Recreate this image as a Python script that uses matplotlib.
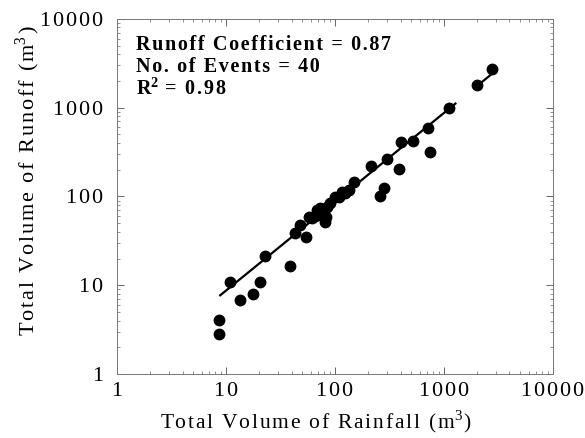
import numpy as np
import matplotlib
matplotlib.use("Agg")
import matplotlib.pyplot as plt
from matplotlib.ticker import FixedLocator, FixedFormatter, LogLocator, NullFormatter

plt.rcParams["font.family"] = ["Liberation Serif", "DejaVu Serif"]
plt.rcParams["mathtext.fontset"] = "custom"
plt.rcParams["mathtext.rm"] = "Liberation Serif"
plt.rcParams["mathtext.bf"] = "Liberation Serif:bold"

# event volumes (m^3)
rainfall = [8.7, 8.7, 10.9, 13.4, 17.6, 20.5, 22.8, 38.7, 43, 47.7,
            53.8, 57.7, 68.8, 72.8, 68.8, 82.7, 80.9, 90, 100, 117,
            149, 214, 259, 281, 298, 389, 401, 523, 718, 744,
            1111, 2021, 2738, 62, 66, 76, 85, 110, 125, 135]
runoff = [4.06, 2.8, 11, 6.8, 7.9, 10.9, 21.3, 16.6, 38.5, 47.7,
          34.7, 59, 70.5, 73.6, 61.9, 59.3, 52, 85, 99.6, 113,
          145, 222, 100, 123, 264, 204, 415, 422, 587, 315,
          985, 1804, 2712, 57, 60, 68, 76, 98, 110, 118]

coef = 0.87
fit_segments = [(8.7, 1300), (2000, 2950)]
decade_ticks = [1, 10, 100, 1000, 10000]
decade_labels = ["1", "10", "100", "1000", "10000"]
stats_lines = ["Runoff Coefficient = 0.87", "No. of Events = 40"]


def spaced(s):
    # the scanned figure uses loose letter spacing
    return "\u200a".join(s)


fig = plt.figure(figsize=(5.85, 4.38), dpi=100)
ax = fig.add_axes([0.2, 0.146, 0.745, 0.811])

ax.set_xscale("log")
ax.set_yscale("log")
ax.set_xlim(1, 10000)
ax.set_ylim(1, 10000)

for x0, x1 in fit_segments:
    xs = np.array([x0, x1])
    ax.plot(xs, coef * xs, color="black", lw=1.6, solid_capstyle="butt")

ax.plot(rainfall, runoff, "o", color="black", ms=7.5, mec="black")

for axis in (ax.xaxis, ax.yaxis):
    axis.set_major_locator(FixedLocator(decade_ticks))
    axis.set_major_formatter(FixedFormatter([spaced(t) for t in decade_labels]))
    axis.set_minor_locator(LogLocator(base=10, subs=np.arange(2, 10)))
    axis.set_minor_formatter(NullFormatter())

ax.tick_params(which="both", direction="in", top=True, right=True,
               colors="#666666", labelcolor="black", labelsize=16)
ax.tick_params(which="major", length=5, width=0.7)
ax.tick_params(which="minor", length=2.5, width=0.5)
ax.tick_params(axis="x", pad=6)
ax.tick_params(axis="y", pad=10)
for sp in ax.spines.values():
    sp.set_color("#777777")
    sp.set_linewidth(0.7)

ax.set_xlabel(spaced("Total Volume of Rainfall (m") + "$^3$\u200a)", fontsize=15.5)
ax.set_ylabel(spaced("Total Volume of Runoff (m") + "$^3$\u200a)", fontsize=16)
ax.xaxis.set_label_coords(0.456, -0.097)
ax.yaxis.set_label_coords(-0.172, 0.544)

ys = [0.925, 0.863]
for y, line in zip(ys, stats_lines):
    ax.text(0.044, y, spaced(line), transform=ax.transAxes,
            fontsize=14.5, fontweight="bold", va="center")
ax.text(0.044, 0.801, "R" + r"$\mathbf{^2}$" + spaced(" = 0.98"),
        transform=ax.transAxes, fontsize=14.5, fontweight="bold", va="center")

fig.savefig("out.png", dpi=100)
